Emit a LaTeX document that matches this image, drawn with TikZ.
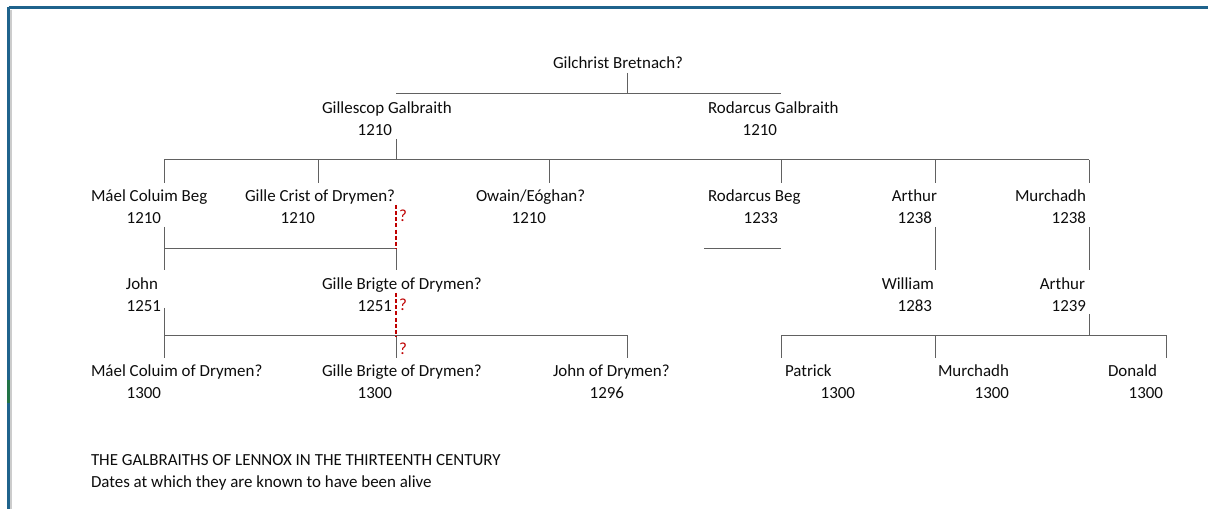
\documentclass[tikz,border=0pt]{standalone}
\usepackage{fontspec}
\setmainfont{Carlito}
\begin{document}
\begin{tikzpicture}[x=0.75pt,y=-0.75pt,
  every node/.style={inner sep=0pt,outer sep=0pt,font=\fontsize{12.7}{14}\selectfont,text=black!95},
  nm/.style={anchor=base west,yshift=-1.5pt},
  nr/.style={anchor=base east,yshift=-1.5pt},
  ln/.style={draw=black!62,line width=0.75pt},
  unsure/.style={draw=red!75!black,line width=0.9pt,dash pattern=on 3pt off 1.6pt},
  qm/.style={anchor=base west,yshift=-1.5pt,text=red!75!black}]
\useasboundingbox (0,0) rectangle (1208,509);
\fill[white] (0,0) rectangle (1208,509);
% sheet frame
\draw[black!20,line width=0.8pt] (11,10) -- (11,509);
\draw[draw={rgb,255:red,31;green,99;blue,140},line width=1.6pt] (8.5,7.5) -- (1208,7.5);
\draw[draw={rgb,255:red,31;green,99;blue,140},line width=1.6pt] (8.5,7.5) -- (8.5,509);
\draw[draw={rgb,255:red,33;green,115;blue,70},line width=1.6pt] (8.5,380) -- (8.5,403);

% generation 0
\node[nm] (gilchrist) at (553,67) {Gilchrist Bretnach?};
% generation 1
\node[nm] (gillescop) at (322,112) {Gillescop Galbraith};
\node[nr] (gillescopd) at (392,134) {1210};
\node[nm] (rodarcus) at (708,112) {Rodarcus Galbraith};
\node[nr] (rodarcusd) at (777,134) {1210};
% generation 2
\node[nm] (maelbeg) at (91,200) {Máel Coluim Beg};
\node[nr] (maelbegd) at (161,222) {1210};
\node[nm] (gillecrist) at (245,200) {Gille Crist of Drymen?};
\node[nr] (gillecristd) at (315,222) {1210};
\node[nm] (owain) at (476,200) {Owain/Eóghan?};
\node[nr] (owaind) at (546,222) {1210};
\node[nm] (rodbeg) at (708,200) {Rodarcus Beg};
\node[nr] (rodbegd) at (778,222) {1233};
\node[nr] (arthurA) at (937,200) {Arthur};
\node[nr] (arthurAd) at (932,222) {1238};
\node[nm] (murchA) at (1015,200) {Murchadh};
\node[nr] (murchAd) at (1086,222) {1238};
% generation 3
\node[nr] (john) at (158,288) {John};
\node[nr] (johnd) at (161,310) {1251};
\node[nm] (gbrigteA) at (322,288) {Gille Brigte of Drymen?};
\node[nr] (gbrigteAd) at (392,310) {1251};
\node[nr] (william) at (934,288) {William};
\node[nr] (williamd) at (932,310) {1283};
\node[nr] (arthurB) at (1085,288) {Arthur};
\node[nr] (arthurBd) at (1086,310) {1239};
% generation 4
\node[nm] (maeldry) at (91,375) {Máel Coluim of Drymen?};
\node[nr] (maeldryd) at (161,397) {1300};
\node[nm] (gbrigteB) at (322,375) {Gille Brigte of Drymen?};
\node[nr] (gbrigteBd) at (392,397) {1300};
\node[nm] (johndry) at (553,375) {John of Drymen?};
\node[nr] (johndryd) at (624,397) {1296};
\node[nm] (patrick) at (785,375) {Patrick};
\node[nr] (patrickd) at (855,397) {1300};
\node[nm] (murchB) at (938,375) {Murchadh};
\node[nr] (murchBd) at (1009,397) {1300};
\node[nm] (donald) at (1108,375) {Donald};
\node[nr] (donaldd) at (1163,397) {1300};
% question marks
\node[qm] (q1) at (399,220) {?};
\node[qm] (q2) at (399,309) {?};
\node[qm] (q3) at (399,353) {?};
% caption
\node[nm] (title) at (91,464) {THE GALBRAITHS OF LENNOX IN THE THIRTEENTH CENTURY};
\node[nm] (subtitle) at (91,486) {Dates at which they are known to have been alive};

% junction coordinates
\coordinate (g0a) at (627,73);  \coordinate (g0b) at (627,94);
\coordinate (h1l) at (396,94);  \coordinate (h1r) at (781,94);
\coordinate (g1a) at (396,139); \coordinate (g1b) at (396,160);
\coordinate (h2l) at (164,160); \coordinate (h2r) at (1089,160);
\coordinate (d1) at (164,183); \coordinate (t1) at (164,160);
\coordinate (d2) at (318,183); \coordinate (t2) at (318,160);
\coordinate (d3) at (549,183); \coordinate (t3) at (549,160);
\coordinate (d4) at (781,183); \coordinate (t4) at (781,160);
\coordinate (d5) at (935,183); \coordinate (t5) at (935,160);
\coordinate (d6) at (1089,183); \coordinate (t6) at (1089,160);
\coordinate (m1a) at (164,227); \coordinate (m1b) at (164,270);
\coordinate (m1h) at (396,249); \coordinate (m1l) at (164,249); \coordinate (m1d) at (396,270);
\coordinate (gc1) at (396,205);
\coordinate (rb1) at (704,249); \coordinate (rb2) at (781,249);
\coordinate (ar1) at (935,227); \coordinate (ar2) at (935,270);
\coordinate (mu1) at (1089,227); \coordinate (mu2) at (1089,270);
\coordinate (jo1) at (164,308); \coordinate (jo2) at (164,358);
\coordinate (jh) at (164,336); \coordinate (jr) at (627,336); \coordinate (jrd) at (627,358);
\coordinate (jm) at (396,336); \coordinate (jmd) at (396,358);
\coordinate (gb1) at (396,293);
\coordinate (ab1) at (1089,314); \coordinate (ab2) at (1089,336);
\coordinate (rl) at (781,336); \coordinate (rld) at (781,358);
\coordinate (rr) at (1166,336); \coordinate (rrd) at (1166,358);
\coordinate (rm) at (935,336); \coordinate (rmd) at (935,358);

% connectors
\draw[ln] (g0a) -- (g0b);
\draw[ln] (h1l) -- (h1r);
\draw[ln] (g1a) -- (g1b);
\draw[ln] (h2l) -- (h2r);
\foreach \i in {1,...,6} {\draw[ln] (t\i) -- (d\i);}
\draw[ln] (m1a) -- (m1b);
\draw[ln] (m1l) -- (m1h) -- (m1d);
\draw[unsure] (gc1) -- (m1h);
\draw[ln] (rb1) -- (rb2);
\draw[ln] (ar1) -- (ar2);
\draw[ln] (mu1) -- (mu2);
\draw[ln] (jo1) -- (jo2);
\draw[ln] (jh) -- (jr) -- (jrd);
\draw[ln] (jm) -- (jmd);
\draw[unsure] (gb1) -- (jm);
\draw[ln] (ab1) -- (ab2);
\draw[ln] (rld) -- (rl) -- (rr) -- (rrd);
\draw[ln] (rm) -- (rmd);
\end{tikzpicture}
\end{document}
